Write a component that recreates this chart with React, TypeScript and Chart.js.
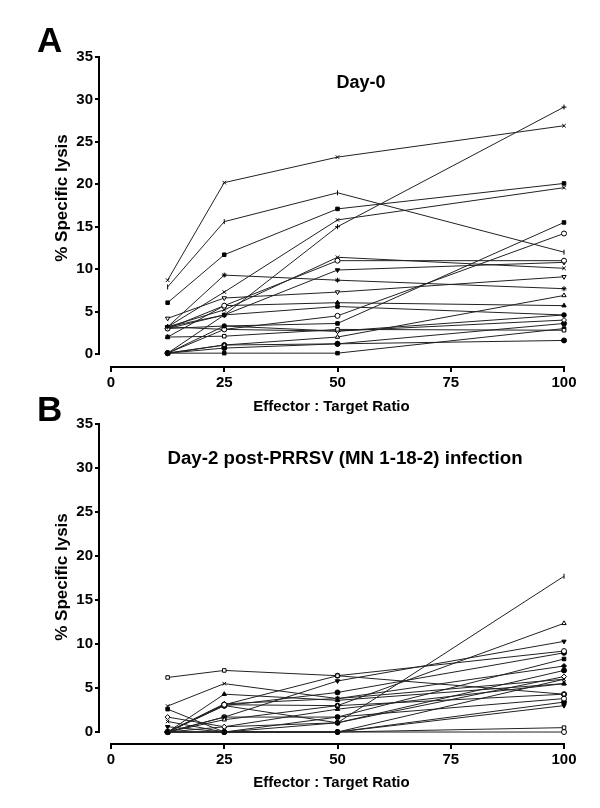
import React, { useEffect, useRef } from "react";
import { Chart, registerables } from "chart.js";
Chart.register(...registerables);

const FONT = "Arial, 'Liberation Sans', Helvetica, sans-serif";

const ratios = [12.5, 25, 50, 100];
const xTickValues = [0, 25, 50, 75, 100];
const yTickValues = [0, 5, 10, 15, 20, 25, 30, 35];

const xTitle = "Effector : Target Ratio";
const yTitle = "% Specific lysis";
const titleA = "Day-0";
const titleB = "Day-2 post-PRRSV (MN 1-18-2) infection";

// Panel A (Day-0) series
const a01 = [8.7, 20.2, 23.2, 26.9];
const a02 = [7.9, 15.6, 19.0, 12.0];
const a03 = [6.05, 11.7, 17.1, 20.1];
const a04 = [3.2, 7.3, 15.8, 19.6];
const a05 = [0.1, 4.6, 15.0, 29.1];
const a06 = [3.2, 9.3, 8.7, 7.7];
const a07 = [4.2, 6.6, 7.3, 9.1];
const a08 = [3.0, 5.7, 11.0, 11.0];
const a09 = [3.2, 4.6, 9.9, 10.8];
const a10 = [0.1, 3.3, 3.6, 15.5];
const a11 = [0.1, 2.9, 4.5, 14.2];
const a12 = [3.2, 5.2, 11.4, 10.1];
const a13 = [2.0, 5.7, 6.05, 5.7];
const a14 = [3.0, 4.6, 5.6, 4.6];
const a15 = [0.1, 1.06, 2.0, 6.9];
const a16 = [2.0, 2.1, 2.9, 2.8];
const a17 = [0.1, 1.06, 1.2, 1.6];
const a18 = [0.1, 0.1, 0.1, 3.0];
const a19 = [3.0, 3.3, 2.7, 4.0];
const a20 = [0.1, 0.7, 1.2, 3.6];
const a21 = [3.2, 2.9, 2.7, 4.6];
const seriesA = [a01, a02, a03, a04, a05, a06, a07, a08, a09, a10, a11, a12, a13, a14, a15, a16, a17, a18, a19, a20, a21];
const markersA = ["crossRot", "line", "rect", "crossRot", "cross", "star", "triangle", "circle", "triangle", "rect", "circle", "crossRot", "triangle", "rect", "triangle", "rect", "circle", "rect", "rectRot", "circle", "rectRot"];
const filledA = [false, false, true, false, false, false, false, false, true, true, false, false, true, true, false, false, true, true, false, true, true];
const rotA = [0, 90, 0, 0, 0, 0, 180, 0, 180, 0, 0, 0, 0, 0, 0, 0, 0, 0, 0, 0, 0];

// Panel B (Day-2) series
const b01 = [6.2, 7.0, 6.4, 4.3];
const b02 = [2.95, 5.5, 3.8, 6.0];
const b03 = [0, 4.3, 3.6, 5.5];
const b04 = [0, 0, 1.05, 17.7];
const b05 = [0, 1.4, 3.0, 12.35];
const b06 = [0, 1.7, 5.8, 10.3];
const b07 = [0, 3.1, 6.4, 9.2];
const b08 = [0, 3.0, 4.5, 9.0];
const b09 = [2.6, 0, 1.7, 8.3];
const b10 = [0, 3.2, 3.8, 7.5];
const b11 = [0, 3.0, 1.05, 7.0];
const b12 = [1.7, 0.6, 1.05, 6.3];
const b13 = [1.2, 0, 0, 6.0];
const b14 = [0, 0.6, 2.6, 5.5];
const b15 = [0, 3.1, 3.0, 4.3];
const b16 = [0, 1.7, 1.7, 3.8];
const b17 = [0, 0, 0, 3.4];
const b18 = [0.6, 0, 0, 3.0];
const b19 = [0, 0, 0, 0.5];
const b20 = [0, 0, 0, 0];
const seriesB = [b01, b02, b03, b04, b05, b06, b07, b08, b09, b10, b11, b12, b13, b14, b15, b16, b17, b18, b19, b20];
const markersB = ["rect", "crossRot", "triangle", "line", "triangle", "triangle", "circle", "circle", "rect", "rectRot", "circle", "rectRot", "crossRot", "triangle", "circle", "circle", "circle", "triangle", "rect", "circle"];
const filledB = [false, false, true, false, false, true, false, true, true, true, true, false, false, true, true, false, true, true, false, false];
const rotB = [0, 0, 0, 90, 0, 180, 0, 0, 0, 0, 0, 0, 0, 0, 0, 0, 0, 180, 0, 0];

const decorPlugin = {
  id: "decor",
  afterDraw(chart: any, _args: any, opts: any) {
    const { ctx, chartArea, scales } = chart;
    const x = scales.x;
    const y = scales.y;
    ctx.save();
    ctx.strokeStyle = "#000";
    ctx.lineWidth = 2;
    ctx.beginPath();
    ctx.moveTo(chartArea.left, y.getPixelForValue(0) + 1);
    ctx.lineTo(chartArea.left, y.getPixelForValue(35) - 1);
    ctx.moveTo(x.getPixelForValue(0) - 1, chartArea.bottom);
    ctx.lineTo(x.getPixelForValue(100) + 1, chartArea.bottom);
    ctx.stroke();

    ctx.fillStyle = "#000";
    ctx.textAlign = "left";
    ctx.textBaseline = "alphabetic";
    ctx.font = `bold 35px ${FONT}`;
    ctx.fillText(opts.letter, opts.letterX, opts.letterY);

    ctx.textAlign = "center";
    ctx.textBaseline = "middle";
    ctx.font = `bold ${opts.titleSize}px ${FONT}`;
    ctx.fillText(opts.title, opts.titleX, opts.titleY);

    ctx.translate(opts.yTitleX, opts.yTitleY);
    ctx.rotate(-Math.PI / 2);
    ctx.font = `bold 17px ${FONT}`;
    ctx.fillText(yTitle, 0, 0);
    ctx.restore();
  },
};

type PanelProps = {
  top: number;
  height: number;
  series: number[][];
  markers: string[];
  filled: boolean[];
  rot: number[];
  padTop: number;
  padBottom: number;
  yMin: number;
  xAxisH: number;
  letter: string;
  letterY: number;
  title: string;
  titleSize: number;
  titleX: number;
  titleY: number;
  yTitleY: number;
};

function Panel(p: PanelProps) {
  const ref = useRef<HTMLCanvasElement>(null);
  useEffect(() => {
    const tickFont = { family: FONT, size: 15, weight: "bold" as const };
    const chart = new Chart(ref.current as HTMLCanvasElement, {
      type: "line",
      data: {
        datasets: p.series.map((vals, i) => ({
          data: ratios.map((r, j) => ({ x: r, y: vals[j] })),
          borderColor: "#222",
          borderWidth: 1,
          pointStyle: p.markers[i] as any,
          pointRotation: p.rot[i],
          pointRadius: 2.5,
          pointBorderWidth: 1,
          pointBorderColor: "#000",
          pointBackgroundColor: p.filled[i] ? "#000" : "#fff",
          tension: 0,
          fill: false,
          clip: false as any,
        })),
      },
      options: {
        animation: false,
        responsive: false,
        layout: { padding: { left: 49, right: 36, top: p.padTop, bottom: p.padBottom } },
        plugins: {
          legend: { display: false },
          tooltip: { enabled: false },
          decor: {
            letter: p.letter,
            letterX: 37,
            letterY: p.letterY,
            title: p.title,
            titleSize: p.titleSize,
            titleX: p.titleX,
            titleY: p.titleY,
            yTitleX: 62,
            yTitleY: p.yTitleY,
          },
        } as any,
        scales: {
          x: {
            type: "linear",
            min: -2.65,
            max: 100,
            afterBuildTicks: (s: any) => {
              s.ticks = xTickValues.map((v) => ({ value: v }));
            },
            afterFit: (s: any) => {
              s.height = p.xAxisH;
            },
            grid: { display: true, drawOnChartArea: false, drawTicks: true, tickLength: 5, tickColor: "#000", lineWidth: 2 },
            border: { display: false },
            ticks: { color: "#000", font: tickFont, padding: 2, maxRotation: 0, autoSkip: false },
            title: { display: true, text: xTitle, color: "#000", font: { family: FONT, size: 15, weight: "bold" }, padding: { top: 4, bottom: 4 } },
          },
          y: {
            type: "linear",
            min: p.yMin,
            max: 35,
            afterBuildTicks: (s: any) => {
              s.ticks = yTickValues.map((v) => ({ value: v }));
            },
            afterFit: (s: any) => {
              s.width = 50;
            },
            grid: { display: true, drawOnChartArea: false, drawTicks: true, tickLength: 4, tickColor: "#000", lineWidth: 2 },
            border: { display: false },
            ticks: { color: "#000", font: tickFont, padding: 2, autoSkip: false },
          },
        },
      },
      plugins: [decorPlugin],
    });
    return () => chart.destroy();
  }, []);
  return (
    <div style={{ position: "absolute", left: 0, top: p.top, width: 600, height: p.height }}>
      <canvas ref={ref} width={600} height={p.height} style={{ width: 600, height: p.height, display: "block" }} />
    </div>
  );
}

export default function App() {
  return (
    <div style={{ position: "absolute", left: 0, top: 0, width: 600, height: 808, background: "#fff" }}>
      <Panel
        top={0}
        height={420}
        series={seriesA}
        markers={markersA}
        filled={filledA}
        rot={rotA}
        padTop={57}
        padBottom={0}
        yMin={-1.53}
        xAxisH={53}
        letter="A"
        letterY={52}
        title={titleA}
        titleSize={18}
        titleX={361}
        titleY={83}
        yTitleY={198}
      />
      <Panel
        top={380}
        height={428}
        series={seriesB}
        markers={markersB}
        filled={filledB}
        rot={rotB}
        padTop={44}
        padBottom={12}
        yMin={-1.36}
        xAxisH={52}
        letter="B"
        letterY={41}
        title={titleB}
        titleSize={18.7}
        titleX={345}
        titleY={79}
        yTitleY={197}
      />
    </div>
  );
}
